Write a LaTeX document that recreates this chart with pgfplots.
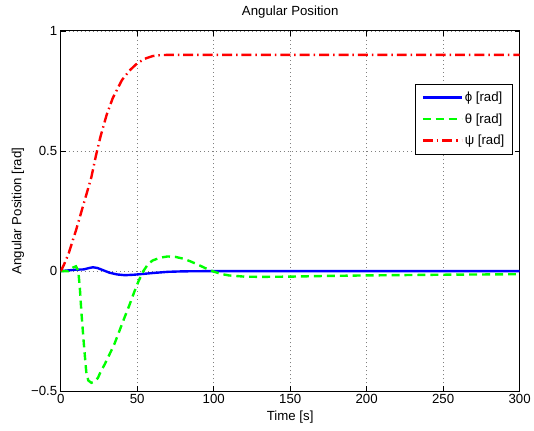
\documentclass[border=0pt]{standalone}
\usepackage{pgfplots}
\pgfplotsset{compat=1.18}
\usepackage{fontspec}
\setmainfont{Liberation Sans}

% angular position response
\pgfplotstableread{
t      phi
0      0
5      0.003
10     0.006
15     0.007
18     0.012
21     0.016
24     0.013
28     0.003
32     -0.007
37     -0.014
42     -0.017
48     -0.015
55     -0.011
60     -0.008
70     -0.003
80     -0.001
100    0
300    0
}\phidata

\pgfplotstableread{
t      theta
0      0
5      0
8      0.015
10     0.02
11.5   0
12.5   -0.07
13.5   -0.17
15.2   -0.31
16.7   -0.42
18     -0.455
20     -0.465
22     -0.46
24.3   -0.445
26     -0.42
28.6   -0.39
32     -0.345
35     -0.305
38     -0.255
41.6   -0.195
45     -0.14
48     -0.088
51     -0.04
54     0
57     0.028
60     0.044
65     0.056
70     0.061
75     0.059
80     0.052
85     0.04
90     0.026
95     0.011
100    -0.002
105    -0.012
110    -0.018
120    -0.023
130    -0.024
150    -0.023
175    -0.02
200    -0.018
250    -0.015
300    -0.013
}\thetadata

\pgfplotstableread{
t      psi
0      0
2      0.025
5      0.07
8      0.13
10     0.17
15     0.28
20     0.39
23     0.48
26     0.56
30     0.65
34     0.72
40     0.795
45     0.835
50     0.865
55     0.884
60     0.895
65     0.899
70     0.9
300    0.9
}\psidata

\begin{document}
\begin{tikzpicture}
\begin{axis}[
    scale only axis,
    width=461pt, height=362pt,
    xmin=0, xmax=300, ymin=-0.5, ymax=1,
    xtick={0,50,...,300},
    ytick={-0.5,0,0.5,1},
    yticklabels={−0.5,0,0.5,1},
    tick align=inside,
    major tick length=5pt,
    tick style={black, line width=0.6pt},
    axis line style={black, line width=0.8pt},
    grid=major,
    major grid style={gray, line width=0.5pt, dash pattern=on 1pt off 3pt},
    font=\fontsize{13.3}{16}\selectfont,
    tick label style={font=\fontsize{13.3}{16}\selectfont},
    /pgf/number format/assume math mode=true,
    title={Angular Position},
    title style={yshift=3pt},
    xlabel={Time [s]},
    ylabel={Angular Position [rad]},
    legend style={at={(rel axis cs:0.985,0.8536)}, anchor=north east,
        draw=black, line width=0.8pt, fill=white,
        font=\fontsize{13.3}{16}\selectfont,
        row sep=6.5pt, inner xsep=6pt, inner ysep=6pt},
    legend cell align=left,
    legend image code/.code={\draw[#1] (0pt,0pt) -- (39pt,0pt);},
]
\addplot[blue, line width=2.4pt] table[x=t, y=phi] {\phidata};
\addlegendentry{ϕ [rad]}
\addplot[green, line width=2.4pt, dash pattern=on 8pt off 5pt] table[x=t, y=theta] {\thetadata};
\addlegendentry{θ [rad]}
\addplot[red, line width=2.4pt, dash pattern=on 10pt off 4pt on 1.5pt off 4pt] table[x=t, y=psi] {\psidata};
\addlegendentry{ψ [rad]}
\coordinate (O) at (rel axis cs:0,0);
\end{axis}
\path (O) ++(-61pt,-39pt) rectangle ++(534pt,432pt);
\end{tikzpicture}
\end{document}
